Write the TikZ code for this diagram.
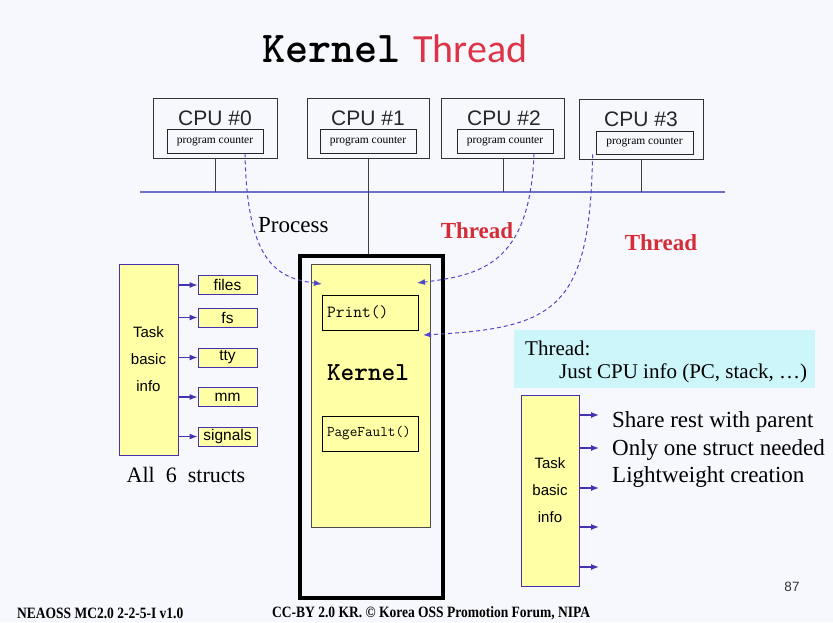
\documentclass[tikz,border=0pt]{standalone}
\usepackage{fontspec}
\setmainfont{Liberation Serif}
\setsansfont{Liberation Sans}
\newfontfamily\titlefont{Carlito}
\usetikzlibrary{arrows.meta,positioning,calc}

\definecolor{slidebg}{RGB}{247,248,253}
\definecolor{kyellow}{RGB}{255,255,166}
\definecolor{structblue}{RGB}{70,50,175}
\definecolor{busblue}{RGB}{112,112,200}
\definecolor{dashblue}{RGB}{80,70,200}
\definecolor{infocyan}{RGB}{204,246,250}
\definecolor{titlered}{RGB}{222,52,72}
\definecolor{threadred}{RGB}{212,45,55}

\begin{document}
\begin{tikzpicture}[x=1pt, y=-1pt,
  cpubox/.style={draw=black!80, line width=0.8pt, minimum width=124pt, minimum height=60pt, inner sep=0pt},
  cpulbl/.style={font=\sffamily\fontsize{21}{23}\selectfont, text=black!85, inner sep=0pt},
  pcbox/.style={draw=black!85, line width=0.8pt, minimum width=96pt, minimum height=24pt, inner sep=0pt, font=\fontsize{11.5}{12}\selectfont},
  tick/.style={draw=black!75, line width=1pt},
  bus/.style={draw=busblue, line width=1.2pt},
  procbox/.style={draw=black, line width=4.5pt, minimum width=143pt, minimum height=342pt},
  kbox/.style={draw=black!70, fill=kyellow, line width=0.8pt, minimum width=119pt, minimum height=263pt},
  fnbox/.style={draw=black, line width=0.8pt, text width=86pt, inner sep=5pt, minimum height=35pt, align=left},
  taskbox/.style={draw=structblue, fill=kyellow, line width=0.8pt, minimum width=59pt, minimum height=191pt, align=center, font=\sffamily\fontsize{15}{27}\selectfont},
  structbox/.style={draw=structblue, fill=kyellow, line width=0.8pt, minimum width=59pt, minimum height=19pt, inner sep=0pt, font=\sffamily\fontsize{15.5}{15}\selectfont},
  arr/.style={draw=structblue, line width=1.2pt, -{Latex[length=8pt,width=6pt]}},
  jump/.style={draw=dashblue, line width=1pt, dash pattern=on 4pt off 3pt, -{Latex[length=8pt,width=6pt]}},
  lbl/.style={inner sep=0pt, font=\fontsize{23}{26}\selectfont},
  redlbl/.style={inner sep=0pt, text=threadred, font=\bfseries\fontsize{23}{26}\selectfont},
  footer/.style={inner sep=0pt, anchor=west, font=\bfseries\fontsize{15}{16}\selectfont}
]
\fill[slidebg] (0,0) rectangle (833,622);

% title
\node[inner sep=0pt, anchor=base west, font=\ttfamily\bfseries\fontsize{44}{46}\selectfont] (ttlk) at (262,62) {Kernel};
\node[inner sep=0pt, anchor=base west, text=titlered, font=\titlefont\fontsize{40}{42}\selectfont] (ttlt) at (413,62) {Thread};

% CPUs
\node[cpubox] (cpu0) at (215,128) {};
\node[cpubox, minimum width=122pt] (cpu1) at (368,128.5) {};
\node[cpubox, minimum width=123pt] (cpu2) at (503,128.5) {};
\node[cpubox] (cpu3) at (641,129.5) {};
\node[cpulbl] (cpulbl0) at (215,118) {CPU \#0};
\node[cpulbl] (cpulbl1) at (368,118) {CPU \#1};
\node[cpulbl] (cpulbl2) at (504,118) {CPU \#2};
\node[cpulbl] (cpulbl3) at (641,119) {CPU \#3};
\node[pcbox] (pc0) at (215,141) {program counter};
\node[pcbox] (pc1) at (368,141) {program counter};
\node[pcbox] (pc2) at (505,141) {program counter};
\node[pcbox, minimum width=97pt, minimum height=23pt] (pc3) at (644.5,142.5) {program counter};

\coordinate (busW) at (140,192);
\coordinate (busE) at (725,192);
\draw[bus] (busW) -- (busE);

% process box with kernel
\node[procbox] (proc) at (371.5,427) {};
\node[kbox] (kernel) at (370.5,395.5) {};
\node[fnbox, font=\ttfamily\fontsize{17}{18}\selectfont] (print) at (370,312.5) {Print()};
\node[fnbox, font=\ttfamily\fontsize{14.8}{16}\selectfont] (pagefault) at (370,433.5) {PageFault()};
\node[inner sep=0pt, font=\ttfamily\bfseries\fontsize{26}{28}\selectfont] (klabel) at (368,373) {Kernel};

\draw[tick] (cpu0.south) -- (cpu0.south |- busW);
\draw[tick] (cpu1.south) -- (cpu1.south |- proc.north);
\draw[tick] (cpu2.south) -- (cpu2.south |- busW);
\draw[tick] (cpu3.south) -- (cpu3.south |- busW);

% jumps into the kernel
\coordinate (k0) at (322,284);
\coordinate (k2) at (417,283);
\coordinate (k3) at (423,335);
\draw[jump] ($(pc0.south)+(30,0)$) .. controls (247,260) and (275,278) .. (k0);
\draw[jump] ($(pc2.south)+(29,0)$) .. controls (530,265) and (480,275) .. (k2);
\draw[jump] ($(pc3.south west)+(-3,0)$) .. controls (590,310) and (555,328) .. (k3);

\node[lbl, anchor=west] (proclbl) at (258,225) {Process};
\node[redlbl] (thr1) at (477,231) {Thread};
\node[redlbl] (thr2) at (661,243) {Thread};

% process: task and its structs
\node[taskbox] (task) at (148.5,359.5) {Task\\basic\\info};
\node[structbox] (files) at (227.5,285) {files};
\node[structbox] (fs) at (227.5,317.5) {fs};
\node[structbox] (tty) at (227.5,357.5) {tty};
\node[structbox] (mm) at (227.5,397) {mm};
\node[structbox] (signals) at (227.5,436.5) {signals};
\draw[arr] (task.east |- files.west) -- (files.west);
\draw[arr] (task.east |- fs.west) -- (fs.west);
\draw[arr] (task.east |- tty.west) -- (tty.west);
\draw[arr] (task.east |- mm.west) -- (mm.west);
\draw[arr] (task.east |- signals.west) -- (signals.west);
\node[lbl, font=\fontsize{22}{24}\selectfont] (allstructs) at (186,475) {All\ \ 6\ \ structs};

% thread: task only
\node[fill=infocyan, minimum width=301pt, minimum height=58pt] (threadinfo) at (664.5,359) {};
\node[lbl, anchor=west, font=\fontsize{21}{24}\selectfont] (thrhdr) at (525,348) {Thread:};
\node[lbl, anchor=west, font=\fontsize{21}{24}\selectfont] (thrcpu) at (559,373) {Just CPU info (PC, stack, …)};

\node[taskbox, minimum width=58pt] (task2) at (550,490.5) {Task\\basic\\info};
\coordinate (s1) at (599,415);
\coordinate (s2) at (599,448);
\coordinate (s3) at (599,488);
\coordinate (s4) at (599,527);
\coordinate (s5) at (599,567);
\draw[arr] (s1 -| task2.east) -- (s1);
\draw[arr] (s2 -| task2.east) -- (s2);
\draw[arr] (s3 -| task2.east) -- (s3);
\draw[arr] (s4 -| task2.east) -- (s4);
\draw[arr] (s5 -| task2.east) -- (s5);
\node[lbl, anchor=west] (share) at (612,422) {Share rest with parent};
\node[lbl, anchor=west] (onlyone) at (612,450) {Only one struct needed};
\node[lbl, anchor=west] (light) at (612,477) {Lightweight creation};

% page number and footer
\node[inner sep=0pt, text=black!80, font=\sffamily\fontsize{13.5}{14}\selectfont] (pageno) at (792,587) {87};
\node[footer] (foot1) at (17,613) {\scalebox{0.9}[1.05]{NEAOSS MC2.0 2-2-5-I v1.0}};
\node[footer] (foot2) at (272,613) {\scalebox{0.9}[1.05]{CC-BY 2.0 KR. © Korea OSS Promotion Forum, NIPA}};
\end{tikzpicture}
\end{document}
